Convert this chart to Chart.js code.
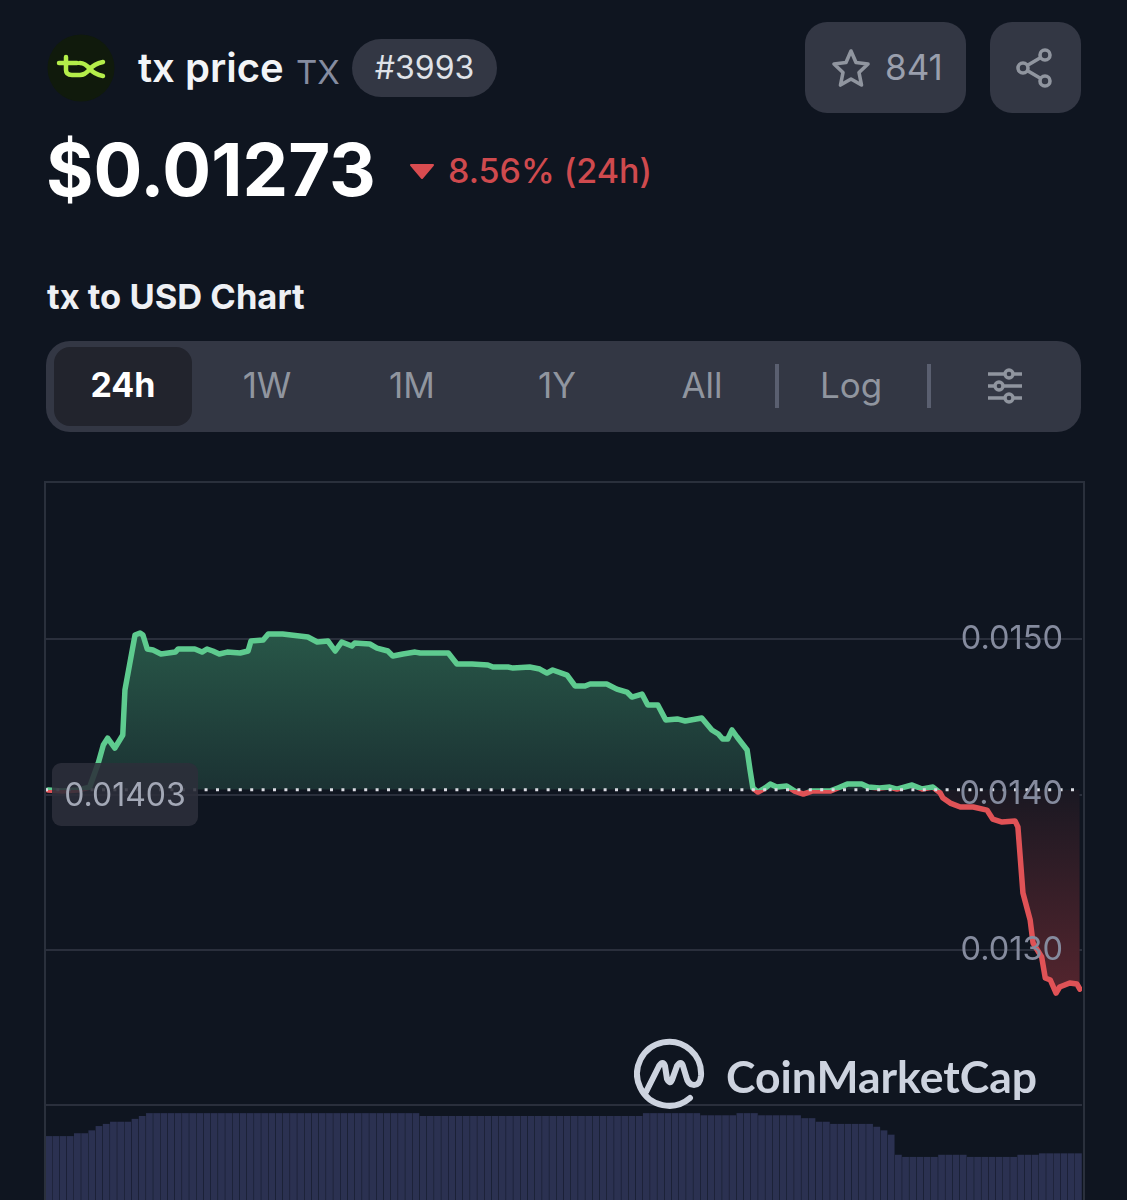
<!DOCTYPE html>
<html>
<head>
<meta charset="utf-8">
<title>tx to USD Chart</title>
<script src="https://cdn.jsdelivr.net/npm/chart.js@4"></script>
<style>
    html, body { margin: 0; padding: 0; background: #0f1520; }
    #page { position: relative; width: 1127px; height: 1200px; overflow: hidden; background: #0f1520; font-family: Inter, "Noto Sans", sans-serif; }
    #page > * { position: absolute; }
    .txt { white-space: nowrap; line-height: 1; }
    .tab { top: 368px; width: 120px; margin-left: -60px; text-align: center; font-size: 35px; color: #90959f; }
    .sep { top: 364px; width: 4px; height: 44px; background: #5a5f70; }
    .box { background: #333744; }
</style>
</head>
<body>
<div id="page">
    <svg style="left:47px;top:34px" width="68" height="68" viewBox="0 0 68 68">
        <circle cx="34" cy="34" r="33.5" fill="#101a0c"/>
        <path d="M12 29 H30 M19 23 V36 Q19 41 25 41 H33 Q38 41 43 35 Q47 30 56 28 M43 35 Q47 40 56 42 M33 29 Q38 29 43 35" fill="none" stroke="#b4ee4a" stroke-width="4.5" stroke-linecap="round"/>
    </svg>
    <div class="txt" style="left:138px;top:48px;font-size:40px;font-weight:600;color:#f2f4f7">tx price</div>
    <div class="txt" style="left:296px;top:56px;font-size:33px;color:#858ca0">TX</div>
    <div class="box" style="left:352px;top:39px;width:145px;height:58px;border-radius:29px"></div>
    <div class="txt" style="left:352px;top:52px;width:145px;text-align:center;font-size:32px;color:#dfe2e8">#3993</div>

    <div class="box" style="left:805px;top:22px;width:161px;height:91px;border-radius:22px"></div>
    <svg style="left:830px;top:47px" width="42" height="42" viewBox="0 0 42 42">
        <path d="M21 4 L26 15.5 L38 17 L29 25.5 L31.5 38 L21 32 L10.5 38 L13 25.5 L4 17 L16 15.5 Z" fill="none" stroke="#90959f" stroke-width="3.6" stroke-linejoin="round"/>
    </svg>
    <div class="txt" style="left:885px;top:50px;font-size:35px;color:#9a9fad">841</div>
    <div class="box" style="left:990px;top:22px;width:91px;height:91px;border-radius:22px"></div>
    <svg style="left:1014px;top:46px" width="44" height="44" viewBox="0 0 44 44">
        <path d="M31 9 L9 22 L31 35" fill="none" stroke="#90959f" stroke-width="3.6"/>
        <g fill="#333744" stroke="#90959f" stroke-width="3.6"><circle cx="31" cy="9" r="5"/><circle cx="9" cy="22" r="5"/><circle cx="31" cy="35" r="5"/></g>
    </svg>

    <div class="txt" style="left:46px;top:134px;font-size:72.5px;font-weight:700;color:#fff">$0.01273</div>
    <svg style="left:409px;top:164px" width="26" height="16" viewBox="0 0 26 16"><path d="M2 1 H24 L13 14 Z" fill="#d94c50" stroke="#d94c50" stroke-width="2" stroke-linejoin="round"/></svg>
    <div class="txt" style="left:448px;top:154px;font-size:34px;font-weight:500;color:#cf4a4e">8.56% (24h)</div>

    <div class="txt" style="left:47px;top:280px;font-size:34.5px;font-weight:700;color:#eef0f4">tx to USD Chart</div>

    <div class="box" style="left:46px;top:341px;width:1035px;height:91px;border-radius:24px"></div>
    <div style="left:54px;top:347px;width:138px;height:79px;border-radius:16px;background:#22242d"></div>
    <div class="txt tab" style="left:123px;color:#fff;font-weight:700;font-size:34px">24h</div>
    <div class="txt tab" style="left:267px">1W</div>
    <div class="txt tab" style="left:412px">1M</div>
    <div class="txt tab" style="left:557px">1Y</div>
    <div class="txt tab" style="left:702px">All</div>
    <div class="sep" style="left:775px"></div>
    <div class="txt tab" style="left:851px">Log</div>
    <div class="sep" style="left:927px"></div>
    <svg style="left:986px;top:367px" width="38" height="38" viewBox="0 0 38 38">
        <g stroke="#90959f" stroke-width="3.4" fill="#333744">
            <path d="M2 7 H36 M2 19 H36 M2 31 H36"/>
            <circle cx="23" cy="7" r="4"/><circle cx="13" cy="19" r="4"/><circle cx="23" cy="31" r="4"/>
        </g>
    </svg>

    <div style="left:45px;top:482px;width:1037px;height:718px"><canvas id="priceChart" width="1037" height="718"></canvas></div>
    <div style="left:44px;top:481px;width:1037px;height:719px;border:2px solid #2a303c;border-bottom:0;pointer-events:none"></div>

    <div class="txt" style="left:52px;top:763px;width:146px;height:63px;line-height:63px;text-align:center;border-radius:9px;background:rgba(44,47,58,0.88);font-size:32px;color:#a3a8b6">0.01403</div>

    <svg style="left:634px;top:1038px" width="74" height="74" viewBox="0 0 74 74">
        <path d="M56 60 A32 32 0 1 1 67 38 Q66 47 60 47 Q54 47 52 38 L49 28 Q47 22 43 28 L38 42 Q36 47 33 41 L31 28 Q29 22 25 28 L12 54" fill="none" stroke="#cdd3df" stroke-width="6" stroke-linecap="round" stroke-linejoin="round"/>
    </svg>
    <div class="txt" style="left:726px;top:1054px;font-size:44.5px;font-weight:700;font-family:Lato,Inter,sans-serif;color:#cdd3df">CoinMarketCap</div>
</div>

<script>
    // minutes since the start of the 24h window
    const priceTimes = [
        4, 24, 46, 62, 74, 81, 87, 97, 108, 111, 125, 132, 136, 142, 150, 161, 181, 185, 208, 218,
        225, 233, 242, 253, 271, 282, 286, 303, 310, 330, 365, 378, 393, 403, 412, 426, 430, 451, 461, 476,
        483, 497, 514, 521, 560, 572, 593, 615, 622, 643, 650, 673, 687, 697, 705, 725, 736, 750, 757, 780,
        794, 808, 815, 829, 837, 851, 862, 878, 889, 912, 926, 935, 941, 948, 954, 961, 975, 979, 983, 990,
        1000, 1007, 1016, 1030, 1041, 1053, 1065, 1090, 1101, 1114, 1134, 1143, 1159, 1173, 1183, 1204, 1218, 1233, 1243, 1247,
        1257, 1271, 1289, 1308, 1316, 1329, 1347, 1351, 1358, 1368, 1372, 1384, 1389, 1396, 1404, 1409, 1423, 1433, 1437
    ];
    const priceValues = [
        0.014029, 0.014022, 0.014029, 0.014048, 0.014203, 0.014318, 0.014363, 0.014299, 0.014383, 0.014672,
        0.015026, 0.015039, 0.015026, 0.014936, 0.014929, 0.014904, 0.014916, 0.014936, 0.014936, 0.014916,
        0.014936, 0.014923, 0.014904, 0.014916, 0.014910, 0.014923, 0.014987, 0.014994, 0.015032, 0.015032,
        0.015013, 0.014981, 0.014987, 0.014923, 0.014981, 0.014955, 0.014974, 0.014968, 0.014942, 0.014923,
        0.014891, 0.014904, 0.014916, 0.014910, 0.014910, 0.014839, 0.014839, 0.014833, 0.014820, 0.014820,
        0.014813, 0.014820, 0.014807, 0.014781, 0.014801, 0.014768, 0.014698, 0.014698, 0.014711, 0.014711,
        0.014678, 0.014659, 0.014627, 0.014646, 0.014576, 0.014576, 0.014479, 0.014486, 0.014473, 0.014492,
        0.014415, 0.014389, 0.014357, 0.014357, 0.014415, 0.014370, 0.014286, 0.014158, 0.014042, 0.014016,
        0.014042, 0.014067, 0.014048, 0.014055, 0.014022, 0.014003, 0.014022, 0.014022, 0.014042, 0.014067,
        0.014067, 0.014048, 0.014042, 0.014048, 0.014035, 0.014061, 0.014035, 0.014048, 0.014010, 0.013977,
        0.013945, 0.013920, 0.013920, 0.013900, 0.013842, 0.013823, 0.013830, 0.013791, 0.013367, 0.013193,
        0.013045, 0.012955, 0.012820, 0.012807, 0.012723, 0.012762, 0.012788, 0.012781, 0.012749
    ];
    // one bar per 10 minutes, relative volume
    const volumeValues = [
        89, 89, 89, 89, 93, 93, 97, 103, 106, 109, 109, 109, 113, 117,
        121, 121, 121, 121, 121, 121, 121, 121, 121, 121, 121, 121, 121, 121, 121, 121, 121, 121, 121,
        121, 121, 121, 121, 121, 121, 121, 121, 121, 121, 121, 121, 121, 121, 121, 121, 121, 121, 121,
        117, 117, 117, 117, 117, 117, 117, 117, 117, 117, 117, 117, 117, 117, 117, 117,
        117, 117, 117, 117, 117, 117, 117, 117, 117, 117, 117, 117, 117, 117, 117,
        121, 121, 121, 121, 121, 121, 121, 121, 118, 118, 118, 118, 118, 121, 121, 121,
        118, 118, 118, 118, 118, 118, 114, 114, 109, 109, 106, 106, 106, 106, 106, 106,
        102, 97, 91, 63, 60, 60, 60, 60, 60, 63, 63, 63, 63,
        60, 60, 60, 60, 60, 60, 60, 63, 63, 63, 65, 65, 65, 65, 65, 65
    ];
    const openPrice = 0.01403;
    const yTicks = [0.015, 0.014, 0.013, 0.012];
    const yTickLabels = ['0.0150', '0.0140', '0.0130', ''];

    const canvas = document.getElementById('priceChart');
    const chart = new Chart(canvas, {
        data: {
            datasets: [
                {
                    type: 'line',
                    label: 'Open',
                    data: [{ x: 0, y: openPrice }, { x: 1440, y: openPrice }],
                    borderColor: '#d9dbe2',
                    borderWidth: 3,
                    borderDash: [3, 8.4],
                    pointRadius: 0,
                    order: 1
                },
                {
                    type: 'line',
                    label: 'Price',
                    data: priceTimes.map(function (t, i) { return { x: t, y: priceValues[i] }; }),
                    borderColor: '#5ecb8f',
                    borderWidth: 5.5,
                    borderJoinStyle: 'round',
                    borderCapStyle: 'round',
                    pointRadius: 0,
                    tension: 0,
                    order: 2
                },
                {
                    type: 'bar',
                    label: 'Volume',
                    data: volumeValues.map(function (v, i) { return { x: i * 10 + 5, y: v }; }),
                    yAxisID: 'y1',
                    backgroundColor: '#2b3151',
                    categoryPercentage: 1,
                    barPercentage: 0.94,
                    order: 3
                }
            ]
        },
        options: {
            responsive: false,
            animation: false,
            layout: { padding: 0, autoPadding: false },
            plugins: { legend: { display: false }, tooltip: { enabled: false } },
            scales: {
                x: { type: 'linear', display: false, min: 0, max: 1440, offset: false },
                y: {
                    position: 'right',
                    min: 0.011392,
                    max: 0.01601,
                    afterBuildTicks: function (scale) {
                        scale.ticks = yTicks.map(function (v) { return { value: v }; });
                    },
                    // labels sit inside the plot, so the axis must not take any room
                    afterFit: function (scale) {
                        scale.width = 0;
                        scale.paddingTop = 0;
                        scale.paddingBottom = 0;
                    },
                    border: { display: false },
                    grid: { color: '#2a2f3c', lineWidth: 2, drawTicks: false },
                    ticks: {
                        mirror: true,
                        padding: -19,
                        z: 1,
                        autoSkip: false,
                        color: '#858b9e',
                        font: { family: 'Inter', size: 32.5 },
                        callback: function (value, index) { return yTickLabels[index]; }
                    }
                },
                y1: { display: false, min: 0, max: 1000 }
            }
        }
    });

    // colours flip at the open price, so the gradients need the real scale
    const yScale = chart.scales.y;
    const ctx = chart.ctx;
    const openY = yScale.getPixelForValue(openPrice);
    const stop = openY / chart.height;

    const lineGradient = ctx.createLinearGradient(0, 0, 0, chart.height);
    lineGradient.addColorStop(0, '#5ecb8f');
    lineGradient.addColorStop(stop, '#5ecb8f');
    lineGradient.addColorStop(stop, '#e05256');
    lineGradient.addColorStop(1, '#e05256');

    const aboveGradient = ctx.createLinearGradient(0, yScale.getPixelForValue(0.01505), 0, openY);
    aboveGradient.addColorStop(0, '#285748');
    aboveGradient.addColorStop(1, '#1b3233');

    const belowGradient = ctx.createLinearGradient(0, openY, 0, yScale.getPixelForValue(0.0127));
    belowGradient.addColorStop(0, '#1a1822');
    belowGradient.addColorStop(1, '#55252e');

    const priceSet = chart.data.datasets[1];
    priceSet.borderColor = lineGradient;
    priceSet.fill = { target: { value: openPrice }, above: aboveGradient, below: belowGradient };
    chart.update('none');
</script>
</body>
</html>
